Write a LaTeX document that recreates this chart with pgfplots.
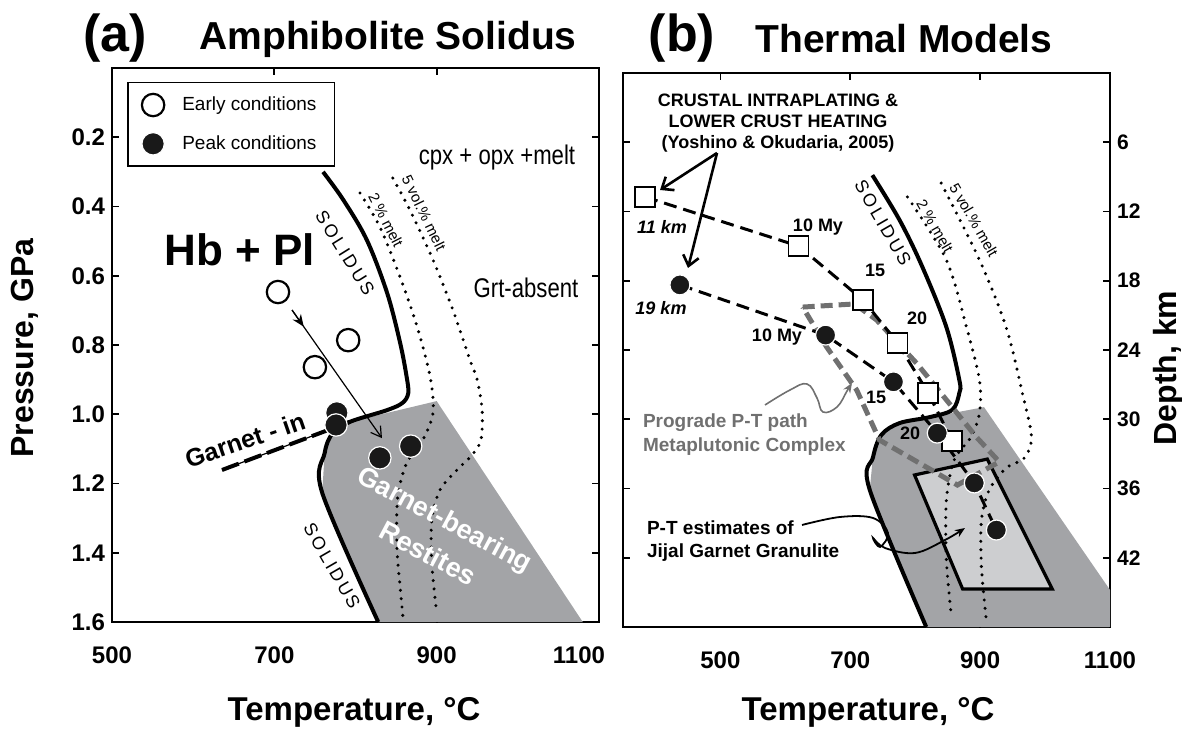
\documentclass[border=0pt]{standalone}
\usepackage{fontspec}
\setmainfont{Liberation Sans}
\newfontfamily\narrowfont[FakeStretch=0.82]{Liberation Sans}
\newfontfamily\spacedfont[LetterSpace=15]{Liberation Sans}
\usepackage{pgfplots}
\pgfplotsset{compat=1.18}
\usetikzlibrary{arrows.meta}

\definecolor{restite}{HTML}{A3A4A7}
\definecolor{jijal}{HTML}{CDCED0}
\definecolor{prograde}{HTML}{707070}
\newcommand{\fs}[2]{\fontsize{#1}{#2}\selectfont}

\pgfplotsset{
  panel/.style={
    scale only axis, width=243.5pt, height=277pt, anchor=south west,
    y dir=reverse, ymin=0, ymax=1.6,
    xtick={500,700,900,1100},
    xtick pos=right, xticklabel pos=left,
    tick align=inside, major tick length=3.5pt,
    every tick/.style={black, line width=0.9pt},
    axis line style={line width=1pt},
    /pgf/number format/assume math mode=true,
    ticklabel style={font=\bfseries\fs{12}{14}},
    xticklabel style={yshift=-9pt},
  },
  melt/.style={smooth, line width=1.7pt, line cap=round, dash pattern=on 0pt off 4.2pt, forget plot},
  solidus/.style={smooth, tension=0.55, line width=2pt, forget plot},
}
% outward ticks on the lower x axis
\newcommand{\bottomticks}{%
  \foreach \tk in {500,700,900,1100}{%
    \edef\temp{\noexpand\draw[line width=0.9pt] (axis cs:\tk,1.6) -- ++(0pt,-3.5pt);}\temp}}

\begin{document}
\begin{tikzpicture}
\useasboundingbox (0,0) rectangle (591pt,366pt);

% ---------------- (a) amphibolite solidus
\begin{axis}[panel, at={(56pt,55pt)}, xmin=500, xmax=1100,
  xticklabels={500,700,900,1100\rule{20pt}{0pt}},
  ytick={0.2,0.4,0.6,0.8,1.0,1.2,1.4,1.6},
  yticklabels={0.2,0.4,0.6,0.8,1.0,1.2,1.4,1.6},
  legend cell align=left,
  legend style={at={(0.031,0.975)}, anchor=north west, draw=black, line width=0.8pt,
    font=\fs{9.5}{11}, row sep=7pt, inner xsep=7pt, inner ysep=5pt,
    /tikz/every odd column/.append style={column sep=7pt}}]
\addplot[fill=restite, draw=none, forget plot] coordinates {
  (793,1.022) (900,0.962) (1080,1.6) (828,1.6) (759,1.227) (762,1.112) (772,1.054)} -- cycle;
\addplot[melt] coordinates {(805.5,0.361) (830,0.459) (855,0.604) (876,0.748) (892,0.892)
  (895.5,0.996) (883,1.074) (863,1.141) (852,1.239) (851,1.383) (855,1.499) (858.5,1.586)};
\addplot[melt] coordinates {(846,0.318) (867,0.410) (895.5,0.554) (920,0.699) (941,0.843)
  (950,0.901) (956,0.988) (954.6,1.074) (943.5,1.118) (925,1.161) (904,1.219) (894,1.305)
  (894,1.430) (900,1.574)};
\addplot[solidus] coordinates {(760,0.300) (785,0.381) (814,0.497) (839,0.650) (855,0.794)
  (863,0.892) (865,0.939) (858,0.967) (839,0.988) (793,1.022) (772,1.054) (762,1.112)
  (759,1.227) (828,1.6)};
\addplot[line width=0.6pt, forget plot] coordinates {(635.5,1.161) (793,1.022)};
\addplot[line width=2pt, dash pattern=on 9pt off 3pt, forget plot] coordinates {(635.5,1.161) (793,1.022)};
\draw[line width=0.6pt, -{Straight Barb[length=5pt,width=6pt]}] (axis cs:721.8,0.699) -- (axis cs:832.6,1.069);
\draw[line width=0.6pt, -{Stealth[length=6pt,width=5pt]}] (axis cs:721.8,0.699) -- (axis cs:736.2,0.747);
\addplot[only marks, mark=*, mark size=5.6pt, mark options={fill=white, draw=black, line width=1.1pt}]
  coordinates {(704.5,0.647) (750,0.864) (791,0.786)};
\addlegendentry{Early conditions\hspace{12pt}}
\addplot[only marks, mark=*, mark size=5.6pt, mark options={fill=black!90, draw=white, line width=0.6pt}]
  coordinates {(777,0.996) (776,1.031) (830,1.126) (868,1.092)};
\addlegendentry{Peak conditions}
\bottomticks
\end{axis}

% ---------------- (b) thermal models
\begin{axis}[panel, at={(311.5pt,52.5pt)}, xmin=350, xmax=1100,
  xticklabels={500,700,900,1100},
  ytick={0.2,0.4,0.6,0.8,1.0,1.2,1.4},
  yticklabels={6,12,18,24,30,36,42}, yticklabel pos=right,
  yticklabel style={font=\bfseries\fs{10.5}{12}}]
\addplot[fill=restite, draw=none] coordinates {
  (776,1.011) (906,0.965) (1100,1.493) (1100,1.6) (817,1.6) (730,1.204) (734,1.126) (745,1.051)} -- cycle;
\addplot[fill=jijal, draw=black, line width=1.6pt] coordinates {
  (799,1.161) (911,1.115) (1011,1.490) (873,1.490)} -- cycle;
\addplot[melt] coordinates {(788,0.358) (848,0.540) (879,0.734) (899,0.887) (899,0.982)
  (886,1.051) (860,1.118) (848,1.233) (848,1.406) (856,1.574)};
\addplot[melt] coordinates {(840,0.318) (899,0.540) (940,0.734) (965,0.924) (979,1.051)
  (968,1.112) (940,1.141) (914,1.204) (902,1.291) (902,1.427) (909,1.571)};
\addplot[solidus] coordinates {(734,0.295) (776,0.425) (811,0.560) (848,0.734) (868,0.887)
  (868,0.924) (857,0.973) (822,0.994) (776,1.011) (748,1.045) (735,1.110) (730,1.204) (817,1.6)};
\addplot[prograde, line width=2.5pt, dash pattern=on 6pt off 3pt] coordinates {
  (626.7,0.676) (706.6,0.667) (740.4,0.713) (802,0.838) (848,0.944) (894,1.051) (929.5,1.123)
  (865,1.190) (745,1.060) (710,0.916) (663.5,0.791)} -- cycle;
\addplot[black, line width=1.5pt, dash pattern=on 6.5pt off 3.5pt, mark=square*, mark size=5pt,
  mark options={solid, fill=white, draw=black, line width=0.8pt}] coordinates {
  (384,0.358) (620.5,0.500) (720,0.656) (773,0.780) (820,0.924) (857,1.063)};
\addplot[black, line width=1.5pt, dash pattern=on 6.5pt off 3.5pt, mark=*, mark size=5pt,
  mark options={solid, fill=black!90, draw=white, line width=0.6pt}] coordinates {
  (437.6,0.612) (662,0.757) (766.5,0.892) (834,1.040) (891,1.184) (925,1.320)};
\bottomticks
\end{axis}

% ---------------- annotations, in image pixels
\begin{scope}[x=0.5pt, y=-0.5pt, shift={(0pt,366pt)}]
\node[font=\bfseries\fs{26}{30}] at (115,38) {(a)};
\node[font=\bfseries\fs{19.5}{23}] at (388,39) {Amphibolite Solidus};
\node[font=\bfseries\fs{26}{30}] at (682,38) {(b)};
\node[font=\bfseries\fs{19.5}{23}] at (904,39) {Thermal Models};
\node[font=\bfseries\fs{16}{19}, rotate=90] at (25,348) {Pressure, GPa};
\node[font=\bfseries\fs{16.5}{19}] at (354,712) {Temperature, °C};
\node[font=\bfseries\fs{16.5}{19}] at (868,712) {Temperature, °C};
\node[font=\bfseries\fs{16}{19}, rotate=90] at (1168,368) {Depth, km};

\node[font=\bfseries\fs{22}{26}] at (240,250) {Hb + Pl};
\node[font=\narrowfont\fs{13.5}{16}] at (497,158) {cpx + opx +melt};
\node[font=\narrowfont\fs{13.5}{16}] at (526,288) {Grt-absent};
\node[font=\spacedfont\fs{9}{11}, rotate=-58] at (345,253) {SOLIDUS};
\node[font=\spacedfont\fs{9}{11}, rotate=-60] at (332,566) {SOLIDUS};
\node[font=\fs{7.5}{9}, rotate=-63] at (386,220) {2 \% melt};
\node[font=\fs{7.5}{9}, rotate=-64] at (424,213) {5 vol.\% melt};
\node[font=\bfseries\fs{12.5}{15}, rotate=19] at (245,440) {Garnet - in};
\node[font=\bfseries\fs{13.5}{17}, text=white, rotate=-28] at (444,521) {Garnet-bearing};
\node[font=\bfseries\fs{13.5}{17}, text=white, rotate=-28] at (428,553) {Restites};

\node[font=\bfseries\fs{9}{10.5}, align=center] at (778,123) {CRUSTAL INTRAPLATING \&\\LOWER CRUST HEATING\\(Yoshino \& Okudaria, 2005)};
\draw[line width=1.3pt, -{Straight Barb[length=5pt,width=8pt]}] (717,153) -- (660,190);
\draw[line width=1.3pt, -{Straight Barb[length=5pt,width=8pt]}] (717,153) -- (688,268);
\node[font=\bfseries\itshape\fs{9}{11}] at (662,227) {11 km};
\node[font=\bfseries\itshape\fs{9}{11}] at (661,308) {19 km};
\node[font=\bfseries\fs{9}{11}] at (818,227) {10 My};
\node[font=\bfseries\fs{9}{11}] at (875,270) {15};
\node[font=\bfseries\fs{9}{11}] at (917,318) {20};
\node[font=\bfseries\fs{9}{11}] at (777,337) {10 My};
\node[font=\bfseries\fs{9}{11}] at (876,397) {15};
\node[font=\bfseries\fs{9}{11}] at (910,433) {20};
\node[font=\spacedfont\fs{9}{11}, rotate=-60] at (883,223) {SOLIDUS};
\node[font=\fs{7.5}{9}, rotate=-60] at (935,226) {2 \% melt};
\node[font=\fs{7.5}{9}, rotate=-60] at (974,220) {5 vol.\% melt};
\node[font=\bfseries\fs{9.5}{12}, text=prograde, align=left, anchor=west] at (636,435) {Prograde P-T path\\Metaplutonic Complex};
\draw[prograde, line width=0.8pt, -{Stealth[length=5pt,width=4pt]}] plot[smooth, tension=0.7] coordinates {
  (765,405) (790,390) (807,384) (817,398) (823,412) (837,407) (847,391) (852,383)};
\node[font=\bfseries\fs{9.5}{11.5}, align=left, anchor=west] at (640,541) {P-T estimates of\\Jijal Garnet Granulite};
\draw[black, line width=0.9pt, -{Stealth[length=5pt,width=4pt]}] plot[smooth, tension=0.6] coordinates {
  (802,525) (840,517) (873,518) (888,533) (880,547) (873,538) (885,548) (915,553) (945,540) (965,528)};
\end{scope}
\end{tikzpicture}
\end{document}
